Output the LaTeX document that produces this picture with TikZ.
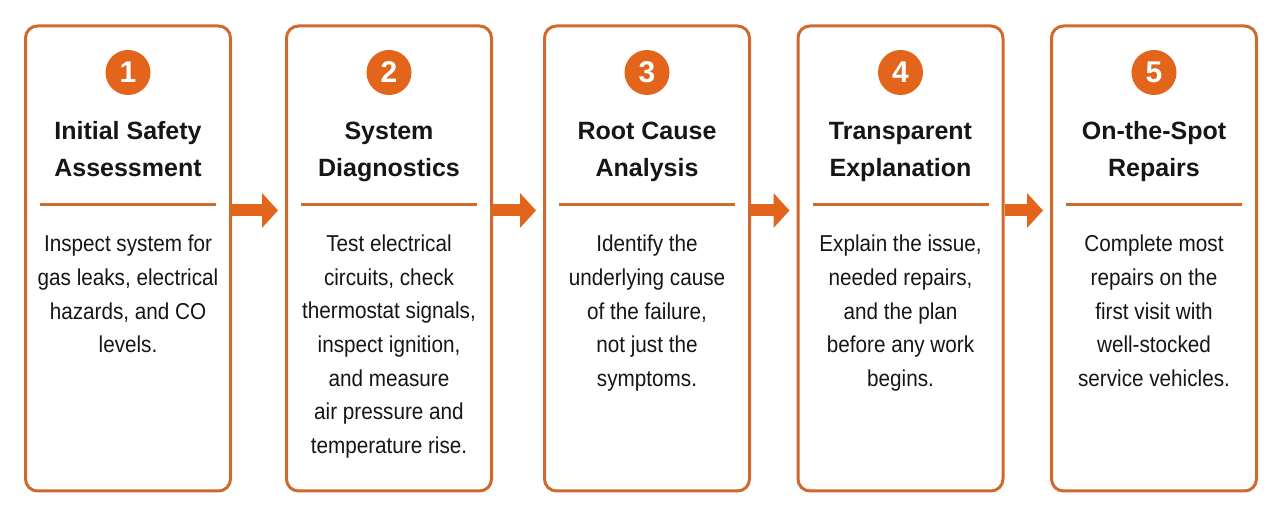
\documentclass[tikz,border=0pt]{standalone}
\usepackage{fontspec}
\setmainfont{Liberation Sans}
\newfontfamily\bodyfont[FakeStretch=0.9]{Liberation Sans}
\usepackage{xcolor}
\definecolor{svcBorder}{HTML}{D0692C}
\definecolor{svcOrange}{HTML}{E3651C}
\definecolor{svcInk}{HTML}{161616}
\usepackage{tikz}
\usetikzlibrary{arrows.meta, positioning, calc}

\begin{document}
\begin{tikzpicture}[
    x=0.5pt, y=-0.5pt,
    stepbox/.style={draw=svcBorder, fill=white, rectangle, rounded corners=6pt, line width=1.5pt, minimum width=102.5pt, minimum height=232.5pt, inner sep=0pt},
    numdot/.style={circle, fill=svcOrange, text=white, minimum size=22.5pt, inner sep=0pt, font=\fontsize{15pt}{15pt}\selectfont\bfseries},
    headtext/.style={anchor=base, align=center, inner sep=0pt, text=svcInk, font=\fontsize{12.5pt}{18.3pt}\selectfont\bfseries},
    bodytext/.style={anchor=base, align=center, inner sep=0pt, text=svcInk, font=\bodyfont\fontsize{11.5pt}{16.8pt}\selectfont},
    rulebar/.style={draw=svcBorder, line width=1.5pt},
    flowarrow/.style={-{Triangle[length=8pt, width=17pt]}, line width=6pt, draw=svcOrange}
]
\useasboundingbox (0,0) rectangle (1280,517);

% the five step cards
\node (box1) [stepbox] at (128,258.5) {};
\node (box2) [stepbox] at (389,258.5) {};
\node (box3) [stepbox] at (647,258.5) {};
\node (box4) [stepbox] at (900.5,258.5) {};
\node (box5) [stepbox] at (1154,258.5) {};

\node (num1) [numdot] at (128,72.5) {1};
\node (num2) [numdot] at (389,72.5) {2};
\node (num3) [numdot] at (647,72.5) {3};
\node (num4) [numdot] at (900.5,72.5) {4};
\node (num5) [numdot] at (1154,72.5) {5};

% headings, placed by the baseline of their last line
\node (head1) [headtext] at (128,176.5) {Initial Safety\\Assessment};
\node (head2) [headtext] at (389,176.5) {System\\Diagnostics};
\node (head3) [headtext] at (647,176.5) {Root Cause\\Analysis};
\node (head4) [headtext] at (900.5,176.5) {Transparent\\Explanation};
\node (head5) [headtext] at (1154,176.5) {On-the-Spot\\Repairs};

% divider under each heading
\draw [rulebar] ($(box1.north west)+(16,180)$) -- ($(box1.north east)+(-16,180)$);
\draw [rulebar] ($(box2.north west)+(16,180)$) -- ($(box2.north east)+(-16,180)$);
\draw [rulebar] ($(box3.north west)+(16,180)$) -- ($(box3.north east)+(-16,180)$);
\draw [rulebar] ($(box4.north west)+(16,180)$) -- ($(box4.north east)+(-16,180)$);
\draw [rulebar] ($(box5.north west)+(16,180)$) -- ($(box5.north east)+(-16,180)$);

\node (text1) [bodytext] at (128,352.8) {Inspect system for\\gas leaks, electrical\\hazards, and CO\\levels.};
\node (text2) [bodytext] at (389,453.3) {Test electrical\\circuits, check\\thermostat signals,\\inspect ignition,\\and measure\\air pressure and\\temperature rise.};
\node (text3) [bodytext] at (647,386.4) {Identify the\\underlying cause\\of the failure,\\not just the\\symptoms.};
\node (text4) [bodytext] at (900.5,386.4) {Explain the issue,\\needed repairs,\\and the plan\\before any work\\begins.};
\node (text5) [bodytext] at (1154,386.4) {Complete most\\repairs on the\\first visit with\\well-stocked\\service vehicles.};

% arrows between the cards
\draw [flowarrow] ([yshift=24pt]box1.east) -- ([xshift=-3.5pt, yshift=24pt]box2.west);
\draw [flowarrow] ([yshift=24pt]box2.east) -- ([xshift=-3.5pt, yshift=24pt]box3.west);
\draw [flowarrow] ([yshift=24pt]box3.east) -- ([xshift=-3.5pt, yshift=24pt]box4.west);
\draw [flowarrow] ([yshift=24pt]box4.east) -- ([xshift=-3.5pt, yshift=24pt]box5.west);

\end{tikzpicture}
\end{document}
